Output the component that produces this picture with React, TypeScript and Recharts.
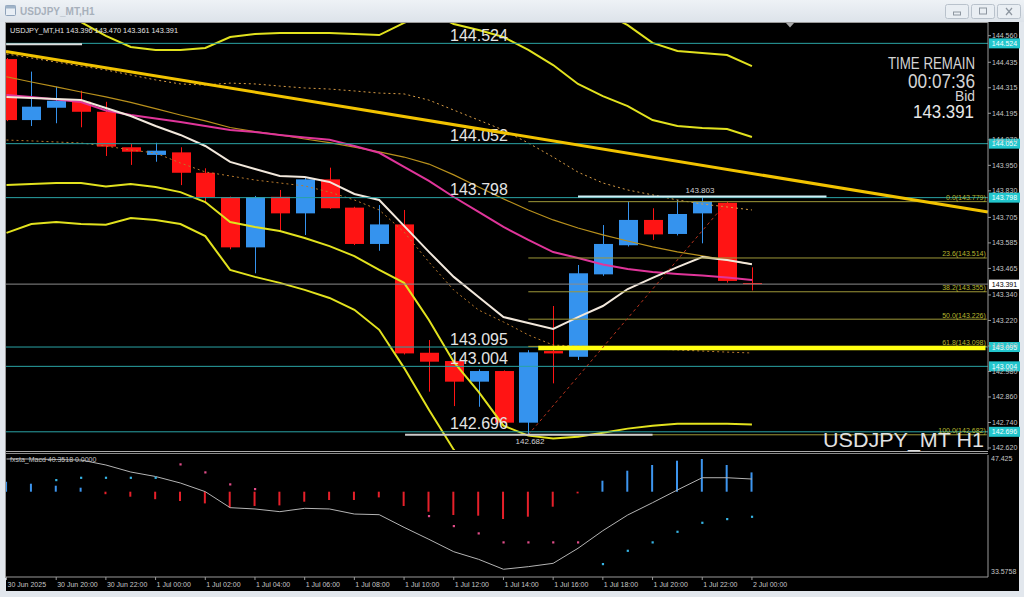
import React from 'react';
import { ComposedChart, Bar, Line, XAxis, YAxis, ReferenceLine, Cell } from 'recharts';

const FONT = '"Liberation Sans", Arial, Helvetica, sans-serif';

// ---------------- data ----------------
const barIndex = [0, 1, 2, 3, 4, 5, 6, 7, 8, 9, 10, 11, 12, 13, 14, 15, 16, 17, 18, 19, 20, 21, 22, 23, 24, 25, 26, 27, 28, 29, 30];
const timeTickIndex = [0, 2, 4, 6, 8, 10, 12, 14, 16, 18, 20, 22, 24, 26, 28, 30];
const timeTickLabels = ['30 Jun 2025', '30 Jun 20:00', '30 Jun 22:00', '1 Jul 00:00', '1 Jul 02:00', '1 Jul 04:00', '1 Jul 06:00', '1 Jul 08:00', '1 Jul 10:00', '1 Jul 12:00', '1 Jul 14:00', '1 Jul 16:00', '1 Jul 18:00', '1 Jul 20:00', '1 Jul 22:00', '2 Jul 00:00'];

const opens = [144.450, 144.163, 144.221, 144.249, 144.202, 144.035, 143.999, 144.011, 143.915, 143.800, 143.564, 143.802, 143.724, 143.884, 143.751, 143.580, 143.672, 143.068, 143.029, 142.932, 142.982, 142.739, 143.076, 143.049, 143.437, 143.574, 143.693, 143.627, 143.724, 143.774, 143.396];
const highs = [144.455, 144.391, 144.320, 144.301, 144.249, 144.050, 144.056, 144.035, 143.936, 143.803, 143.806, 143.834, 143.890, 143.939, 143.755, 143.763, 143.740, 143.128, 143.032, 142.990, 142.985, 143.080, 143.288, 143.481, 143.669, 143.779, 143.748, 143.787, 143.803, 143.779, 143.470];
const lows = [144.158, 144.135, 144.148, 144.129, 143.994, 143.952, 143.967, 143.857, 143.771, 143.555, 143.442, 143.638, 143.622, 143.745, 143.575, 143.548, 143.060, 142.885, 142.817, 142.814, 142.735, 142.682, 142.924, 143.034, 143.430, 143.568, 143.599, 143.620, 143.583, 143.398, 143.361];
const closes = [144.163, 144.226, 144.254, 144.202, 144.038, 144.014, 144.019, 143.915, 143.800, 143.564, 143.800, 143.724, 143.884, 143.748, 143.580, 143.672, 143.065, 143.026, 142.932, 142.982, 142.739, 143.070, 143.065, 143.442, 143.580, 143.693, 143.625, 143.721, 143.779, 143.406, 143.391];

const bandUpper3 = [144.92, 144.90, 144.87, 144.81, 144.73, 144.67, 144.65, 144.66, 144.69, 144.77, 144.80, 144.81, 144.82, 144.83, 144.83, 144.84, 144.96, 145.07, 145.02, 144.99, 144.99, 144.94, 144.86, 144.75, 144.67, 144.610, 144.526, 144.488, 144.479, 144.469, 144.417];
const bandUpper2 = [144.704, 144.690, 144.662, 144.624, 144.559, 144.507, 144.493, 144.493, 144.502, 144.554, 144.568, 144.573, 144.573, 144.573, 144.568, 144.563, 144.620, 144.671, 144.615, 144.587, 144.554, 144.493, 144.422, 144.333, 144.276, 144.229, 144.163, 144.135, 144.126, 144.121, 144.083];
const bandMid = [144.281, 144.272, 144.260, 144.248, 144.208, 144.187, 144.170, 144.154, 144.135, 144.116, 144.107, 144.093, 144.081, 144.070, 144.041, 144.009, 143.943, 143.877, 143.801, 143.731, 143.660, 143.599, 143.542, 143.514, 143.483, 143.462, 143.448, 143.439, 143.432, 143.422, 143.410];
const bandLower2 = [143.857, 143.862, 143.867, 143.867, 143.850, 143.862, 143.848, 143.824, 143.777, 143.683, 143.660, 143.641, 143.608, 143.570, 143.523, 143.458, 143.397, 143.222, 143.025, 142.884, 142.725, 142.678, 142.664, 142.673, 142.692, 142.711, 142.725, 142.734, 142.734, 142.734, 142.730];
const bandLower3 = [143.632, 143.674, 143.683, 143.674, 143.670, 143.702, 143.693, 143.674, 143.617, 143.458, 143.425, 143.397, 143.364, 143.326, 143.270, 143.176, 142.997, 142.800, 142.612, 142.46, 142.26, 142.22, 142.225, 142.25, 142.30, 142.34, 142.36, 142.38, 142.39, 142.39, 142.39];
const fastMa = [144.272, 144.267, 144.262, 144.257, 144.220, 144.182, 144.135, 144.093, 144.041, 143.966, 143.933, 143.900, 143.895, 143.872, 143.815, 143.787, 143.665, 143.543, 143.425, 143.330, 143.236, 143.208, 143.180, 143.236, 143.288, 143.368, 143.420, 143.471, 143.518, 143.504, 143.485];
const slowMa = [144.367, 144.342, 144.319, 144.295, 144.272, 144.246, 144.217, 144.187, 144.159, 144.128, 144.109, 144.093, 144.074, 144.057, 144.036, 144.013, 143.989, 143.956, 143.905, 143.848, 143.792, 143.740, 143.693, 143.655, 143.623, 143.594, 143.566, 143.543, 143.524, 143.504, 143.485];
const dottedHigh = [144.474, 144.455, 144.436, 144.417, 144.399, 144.375, 144.352, 144.333, 144.328, 144.337, 144.333, 144.323, 144.314, 144.309, 144.300, 144.290, 144.286, 144.257, 144.210, 144.163, 144.116, 144.055, 143.989, 143.918, 143.867, 143.834, 143.811, 143.787, 143.768, 143.754, 143.740];
const dottedLow = [144.069, 144.065, 144.060, 144.055, 144.041, 144.022, 144.008, 143.961, 143.919, 143.900, 143.881, 143.867, 143.853, 143.824, 143.787, 143.740, 143.636, 143.495, 143.363, 143.269, 143.213, 143.152, 143.104, 143.100, 143.095, 143.090, 143.086, 143.081, 143.076, 143.071, 143.067];

const macdLine = [47.425, 47.425, 47.36, 47.30, 46.69, 45.83, 45.28, 44.48, 43.42, 41.46, 41.30, 40.97, 41.38, 41.30, 40.68, 40.60, 39.05, 37.58, 36.06, 35.13, 33.91, 34.23, 34.64, 36.48, 38.64, 40.56, 42.07, 43.63, 45.13, 45.13, 44.97];
const macdHist = [10, 8, 6, 4, -2.5, -5, -7.5, -9.3, -11.7, -16, -14.3, -13.7, -10, -8.3, -8.3, -5.7, -14.3, -20, -23.3, -24, -27.3, -25, -15, -1.7, 11, 21, 26.7, 31, 32.7, 26.7, 19.3];
const macdSignal = [null, null, 11.7, 14, 14, 14, 14, 27.4, 19.4, 7.4, 2.7, null, null, null, null, null, null, -24.3, -34.3, -41.6, -50.6, -50.6, -50.6, -50.6, -72.3, -59, -50.6, -40, -31, -27.3, -25];
const macdSignalSide = ['u', 'u', 'u', 'u', 'u', 'u', 'u', 'd', 'd', 'd', 'd', 'd', 'd', 'd', 'd', 'd', 'd', 'd', 'd', 'd', 'd', 'd', 'd', 'd', 'u', 'u', 'u', 'u', 'u', 'u', 'u'];

const priceTicks = [144.560, 144.435, 144.315, 144.195, 144.070, 143.950, 143.830, 143.705, 143.585, 143.465, 143.340, 143.220, 143.100, 142.980, 142.860, 142.740, 142.620];
const levelPrices = [144.524, 144.052, 143.798, 143.095, 143.004, 142.696];
const fibPercents = ['0.0', '23.6', '38.2', '50.0', '61.8', '100.0'];
const fibPrices = [143.779, 143.514, 143.355, 143.226, 143.098, 142.682];
const bidPrice = 143.391;
const swingHigh = 143.803;
const swingLow = 142.682;
const trendStart = { i: -0.02, p: 144.486 };
const trendEnd = { i: 39.5, p: 143.730 };
const yellowLevel = 143.090;
const topLeftLevel = 144.520;

// ---------------- styling ----------------
const UP = '#3593ee';
const DOWN = '#ff1414';
const CYAN = '#2aa3a5';
const BOX = '#22c6cd';
const AXIS = '#9a9a9a';
const TICKTXT = '#c6c6c6';
const FIB = '#9e9838';
const FIBTXT = '#b6b72e';
const X_DOMAIN: [number, number] = [-0.02, 39.5];

const rows = barIndex.map((i, k) => ({
  i,
  o: opens[k],
  h: highs[k],
  l: lows[k],
  c: closes[k],
  range: [lows[k], highs[k]],
  ub3: bandUpper3[k],
  ub2: bandUpper2[k],
  mid: bandMid[k],
  lb2: bandLower2[k],
  lb3: bandLower3[k],
  fast: fastMa[k],
  slow: slowMa[k],
  d1: dottedHigh[k],
  d2: dottedLow[k],
  macd: macdLine[k],
  hist: macdHist[k],
  sig: macdSignal[k],
  side: macdSignalSide[k],
}));

function Candle(props: any) {
  const { x, y, width, height, payload } = props;
  if (x == null || y == null || !payload) return <g />;
  const { o, h, l, c } = payload;
  const color = c > o ? UP : DOWN;
  const span = h - l;
  const k = span > 0 ? height / span : 0;
  const yo = y + (h - o) * k;
  const yc = y + (h - c) * k;
  const top = Math.min(yo, yc);
  const bh = Math.max(1, Math.abs(yc - yo));
  const cx = Math.round(x + width / 2) + 0.5;
  return (
    <g>
      <line x1={cx} x2={cx} y1={y} y2={y + height} stroke={color} strokeWidth={1} />
      <rect x={cx - width / 2} y={top} width={width} height={bh} fill={color} />
    </g>
  );
}

function vbOf(p: any) {
  const vb = (p && p.viewBox) || {};
  const x = vb.x ?? 0;
  const y = vb.y ?? 0;
  const w = vb.width ?? 0;
  return { x, y, w };
}

const levelLabel = (text: string) => (p: any) => {
  const { x, y, w } = vbOf(p);
  return (
    <g>
      <text x={x + 444} y={y - 2.5} fill="#e4e4e4" fontSize={16} fontFamily={FONT}>{text}</text>
      <rect x={x + w + 1} y={y - 5} width={31} height={10} fill={BOX} />
      <text x={x + w + 16.5} y={y + 2.6} fill="#f4ffff" fontSize={7} textAnchor="middle" fontFamily={FONT}>{text}</text>
    </g>
  );
};

const bidLabel = (text: string) => (p: any) => {
  const { x, y, w } = vbOf(p);
  return (
    <g>
      <rect x={x + w + 1} y={y - 4.5} width={31} height={9.5} fill="#ffffff" />
      <text x={x + w + 16.5} y={y + 2.6} fill="#000" fontSize={7} textAnchor="middle" fontFamily={FONT}>{text}</text>
    </g>
  );
};

const fibLabel = (text: string) => (p: any) => {
  const { x, y, w } = vbOf(p);
  return (
    <text x={x + w - 1} y={y - 1.5} fill={FIBTXT} fontSize={7} textAnchor="end" fontFamily={FONT}>{text}</text>
  );
};

const smallLabel = (text: string, dx: number, dy: number) => (p: any) => {
  const { x, y } = vbOf(p);
  return (
    <text x={x + dx} y={y + dy} fill="#d2d2d2" fontSize={8} textAnchor="middle" fontFamily={FONT}>{text}</text>
  );
};

function SignalDot(props: any) {
  const { cx, cy, payload } = props;
  if (cx == null || cy == null || payload == null || payload.sig == null) return <g />;
  const color = payload.side === 'u' ? '#36b4e4' : '#e04c88';
  return <rect x={cx - 1} y={cy - 1} width={2.2} height={2.2} fill={color} />;
}

function TimeTick(props: any) {
  const { x, y, payload } = props;
  const k = timeTickIndex.indexOf(payload.value);
  const label = k >= 0 ? timeTickLabels[k] : '';
  return (
    <text x={x + 1} y={y + 5} fill={TICKTXT} fontSize={7} fontFamily={FONT}>{label}</text>
  );
}

function MainChart() {
  return (
    <ComposedChart width={1024} height={460} data={rows} margin={{ top: 22, right: 0, bottom: 10, left: 6 }}>
      <XAxis type="number" dataKey="i" domain={X_DOMAIN} allowDataOverflow hide ticks={timeTickIndex} />
      <YAxis
        orientation="right"
        width={36}
        domain={[142.6104, 144.6245]}
        allowDataOverflow
        ticks={priceTicks}
        interval={0}
        tickFormatter={(v: number) => v.toFixed(3)}
        tick={{ fill: TICKTXT, fontSize: 7, fontFamily: FONT }}
        tickSize={3}
        tickMargin={1}
        stroke={AXIS}
      />
      <Bar dataKey="range" barSize={19} shape={(p: any) => <Candle {...p} />} isAnimationActive={false} />
      <Line dataKey="d1" type="linear" stroke="#d89c45" strokeWidth={1} strokeDasharray="2 3" dot={false} isAnimationActive={false} />
      <Line dataKey="d2" type="linear" stroke="#b97a2c" strokeWidth={1} strokeDasharray="2 3" dot={false} isAnimationActive={false} />
      <Line dataKey="ub3" type="linear" stroke="#e2e21e" strokeWidth={2} dot={false} isAnimationActive={false} />
      <Line dataKey="ub2" type="linear" stroke="#e2e21e" strokeWidth={2} dot={false} isAnimationActive={false} />
      <Line dataKey="lb2" type="linear" stroke="#e2e21e" strokeWidth={2} dot={false} isAnimationActive={false} />
      <Line dataKey="lb3" type="linear" stroke="#e2e21e" strokeWidth={2} dot={false} isAnimationActive={false} />
      <Line dataKey="slow" type="linear" stroke="#b8901c" strokeWidth={1.2} dot={false} isAnimationActive={false} />
      <Line dataKey="mid" type="linear" stroke="#e0359a" strokeWidth={2} dot={false} isAnimationActive={false} />
      <Line dataKey="fast" type="linear" stroke="#f2e8dc" strokeWidth={2} dot={false} isAnimationActive={false} />

      {levelPrices.map((v) => (
        <ReferenceLine key={'lv' + v} y={v} stroke={CYAN} strokeWidth={1} ifOverflow="visible" label={levelLabel(v.toFixed(3))} />
      ))}
      <ReferenceLine y={bidPrice} stroke="#8c8c8c" strokeWidth={1} ifOverflow="visible" label={bidLabel(bidPrice.toFixed(3))} />
      {fibPrices.map((v, k) => (
        <ReferenceLine
          key={'fib' + k}
          segment={[{ x: 21, y: v }, { x: 39.45, y: v }]}
          stroke={FIB}
          strokeWidth={1}
          ifOverflow="visible"
          label={fibLabel(fibPercents[k] + '(' + v.toFixed(3) + ')')}
        />
      ))}
      <ReferenceLine segment={[{ x: 21.4, y: yellowLevel }, { x: 39.4, y: yellowLevel }]} stroke="#ffff10" strokeWidth={4.5} ifOverflow="visible" />
      <ReferenceLine segment={[{ x: 21, y: swingLow }, { x: 29, y: 143.779 }]} stroke="#b8341e" strokeWidth={1} strokeDasharray="3 3" ifOverflow="visible" />
      <ReferenceLine segment={[{ x: -0.015, y: topLeftLevel }, { x: 3.04, y: topLeftLevel }]} stroke="#dcdcdc" strokeWidth={2} ifOverflow="visible" />
      <ReferenceLine segment={[{ x: 23, y: swingHigh }, { x: 33, y: swingHigh }]} stroke="#cfeff6" strokeWidth={2} ifOverflow="visible" label={smallLabel(swingHigh.toFixed(3), 122, -3.5)} />
      <ReferenceLine segment={[{ x: 16.04, y: swingLow }, { x: 26, y: swingLow }]} stroke="#cccccc" strokeWidth={2} ifOverflow="visible" label={smallLabel(swingLow.toFixed(3), 125, 9)} />
      <ReferenceLine segment={[{ x: trendStart.i, y: trendStart.p }, { x: trendEnd.i, y: trendEnd.p }]} stroke="#f2c300" strokeWidth={3} ifOverflow="visible" />
    </ComposedChart>
  );
}

function MacdChart() {
  return (
    <ComposedChart width={1024} height={145} data={rows} margin={{ top: 3, right: 0, bottom: 0, left: 6 }}>
      <XAxis
        type="number"
        dataKey="i"
        domain={X_DOMAIN}
        allowDataOverflow
        ticks={timeTickIndex}
        interval={0}
        height={20}
        tick={(p: any) => <TimeTick {...p} />}
        tickSize={3}
        tickMargin={2}
        stroke={AXIS}
      />
      <YAxis
        yAxisId="m"
        orientation="right"
        width={36}
        domain={[32.963, 47.915]}
        allowDataOverflow
        ticks={[47.425, 33.5758]}
        interval={0}
        tick={{ fill: TICKTXT, fontSize: 7, fontFamily: FONT }}
        tickSize={0}
        tickMargin={3}
        stroke={AXIS}
      />
      <YAxis yAxisId="h" hide domain={[-85.3, 36.7]} allowDataOverflow />
      <Bar yAxisId="h" dataKey="hist" barSize={2} isAnimationActive={false}>
        {rows.map((r) => (
          <Cell key={'c' + r.i} fill={r.hist >= 0 ? '#3d95ee' : '#e6202a'} />
        ))}
      </Bar>
      <Line yAxisId="m" dataKey="macd" type="linear" stroke="#b4b4b4" strokeWidth={1} dot={false} isAnimationActive={false} />
      <Line yAxisId="h" dataKey="sig" type="linear" stroke="none" strokeWidth={0} dot={(p: any) => <SignalDot key={'s' + p.index} {...p} />} activeDot={false} isAnimationActive={false} />
    </ComposedChart>
  );
}

function TitleBar() {
  return (
    <div style={{ position: 'absolute', left: 0, top: 0, width: 1024, height: 22, background: 'linear-gradient(#eef2f6, #dde3ea)' }}>
      <svg width={1024} height={22} style={{ position: 'absolute', left: 0, top: 0 }}>
        <rect x={5.5} y={5.5} width={10} height={10} fill="#e8eef5" stroke="#8fa3ba" rx={1} />
        <rect x={5.5} y={5.5} width={10} height={3} fill="#9fb3c8" />
        <text x={20} y={15} fill="#a7b0bb" fontSize={10} fontWeight="bold" fontFamily={FONT}>USDJPY_MT,H1</text>
        {[945.5, 971.5, 997.5].map((bx, k) => (
          <g key={'btn' + k}>
            <rect x={bx} y={4.5} width={23} height={14} rx={2} fill="#e9eef3" stroke="#b9c2cc" />
            {k === 0 && <rect x={bx + 8} y={12} width={7} height={3} fill="none" stroke="#8d96a0" />}
            {k === 1 && <rect x={bx + 8} y={8} width={7} height={6} fill="none" stroke="#8d96a0" />}
            {k === 2 && (
              <g stroke="#8d96a0" strokeWidth={1.2}>
                <line x1={bx + 8.5} y1={8} x2={bx + 14.5} y2={15} />
                <line x1={bx + 14.5} y1={8} x2={bx + 8.5} y2={15} />
              </g>
            )}
          </g>
        ))}
      </svg>
    </div>
  );
}

function Overlay() {
  return (
    <svg width={1024} height={597} style={{ position: 'absolute', left: 0, top: 0, pointerEvents: 'none' }}>
      <line x1={5.5} y1={22} x2={5.5} y2={578} stroke="#9a9a9a" />
      <line x1={5.5} y1={22.5} x2={988} y2={22.5} stroke="#9a9a9a" />
      <line x1={6} y1={451.5} x2={988} y2={451.5} stroke="#a8a8a8" />
      <line x1={6} y1={453.5} x2={988} y2={453.5} stroke="#8a8a8a" />
      <polygon points="786,23 794,23 790,27.5" fill="#a8a8a8" />
      <text x={10} y={33} fill="#e2e2e2" fontSize={8} fontFamily={FONT} textLength={168} lengthAdjust="spacingAndGlyphs">USDJPY_MT,H1  143.396 143.470 143.361 143.391</text>
      <text x={975} y={68.5} fill="#d4d4d4" fontSize={16} textAnchor="end" fontFamily={FONT} textLength={87} lengthAdjust="spacingAndGlyphs">TIME REMAIN</text>
      <text x={975} y={87.5} fill="#d4d4d4" fontSize={20} textAnchor="end" fontFamily={FONT} textLength={67} lengthAdjust="spacingAndGlyphs">00:07:36</text>
      <text x={975} y={100.5} fill="#d4d4d4" fontSize={15} textAnchor="end" fontFamily={FONT} textLength={20} lengthAdjust="spacingAndGlyphs">Bid</text>
      <text x={974} y={117.5} fill="#e8e8e8" fontSize={19} textAnchor="end" fontFamily={FONT} textLength={61} lengthAdjust="spacingAndGlyphs">143.391</text>
      <text x={823} y={447} fill="#e2e2e2" fontSize={21} fontFamily={FONT} textLength={161} lengthAdjust="spacingAndGlyphs">USDJPY_MT H1</text>
      <text x={10} y={462} fill="#c4c4c4" fontSize={7} fontFamily={FONT}>fxsta_Macd 40.3518  0.0000</text>
    </svg>
  );
}

export default function App() {
  return (
    <div style={{ position: 'absolute', left: 0, top: 0, width: 1024, height: 597, background: '#e2e7ed', overflow: 'hidden', fontFamily: FONT }}>
      <TitleBar />
      <div style={{ position: 'absolute', left: 6, top: 22, width: 1013, height: 569, background: '#000' }} />
      <div style={{ position: 'absolute', left: 0, top: 0 }}>
        <MainChart />
      </div>
      <div style={{ position: 'absolute', left: 0, top: 452 }}>
        <MacdChart />
      </div>
      <Overlay />
    </div>
  );
}
